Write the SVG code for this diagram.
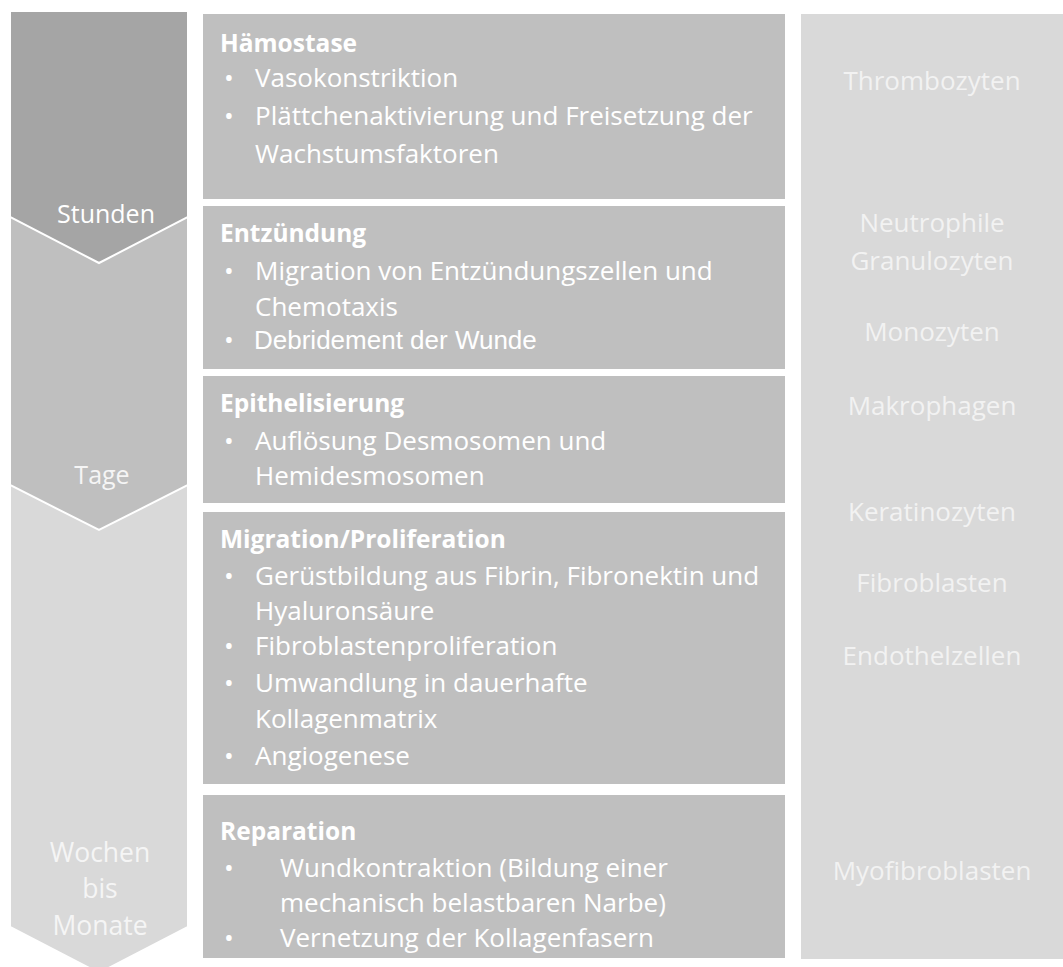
<svg xmlns="http://www.w3.org/2000/svg" width="1063" height="967" viewBox="0 0 1063 967">
<style>
.chev{stroke:#ffffff;stroke-width:2;stroke-linejoin:miter}
.box{fill:#bfbfbf}
.tl{font-family:"Open Sans","Noto Sans",sans-serif;font-size:25px;text-anchor:middle}
.rt{font-family:"Open Sans","Noto Sans",sans-serif;font-size:26px;fill:#f2f2f2;text-anchor:middle}
.bt{font-family:"Open Sans","Noto Sans",sans-serif;font-size:26px;fill:#ffffff}
.bh{font-family:"Open Sans","Noto Sans",sans-serif;font-size:24.5px;font-weight:bold;fill:#ffffff}
.bu{text-anchor:middle}
</style>
<rect width="1063" height="967" fill="#ffffff"/>
<g id="timeline">
  <path class="chev" d="M10,440 L188,440 L188,927 L99,973 L10,927 Z" fill="#d9d9d9"/>
  <path class="chev" d="M10,200 L188,200 L188,485 L99,530 L10,485 Z" fill="#bfbfbf"/>
  <path class="chev" d="M10,11 L188,11 L188,217 L99,263 L10,217 Z" fill="#a5a5a5"/>
  <text class="tl" x="106" y="223" fill="#ffffff">Stunden</text>
  <text class="tl" x="102" y="484" fill="#f5f5f5">Tage</text>
  <text class="tl" x="100" y="862" fill="#f5f5f5" style="font-size:26.5px">Wochen</text>
  <text class="tl" x="100" y="898" fill="#f5f5f5" style="font-size:26.5px">bis</text>
  <text class="tl" x="100" y="935" fill="#f5f5f5" style="font-size:26.5px">Monate</text>
</g>
<g id="haemostase">
  <rect class="box" x="203" y="14" width="582" height="185"/>
  <text class="bh" x="220" y="52">Hämostase</text>
  <text class="bt bu" x="229" y="87">•</text>
  <text class="bt" x="255" y="87">Vasokonstriktion</text>
  <text class="bt bu" x="229" y="125">•</text>
  <text class="bt" x="255" y="125">Plättchenaktivierung und Freisetzung der</text>
  <text class="bt" x="255" y="163">Wachstumsfaktoren</text>
</g>
<g id="entzuendung">
  <rect class="box" x="203" y="206" width="582" height="163"/>
  <text class="bh" x="220" y="242">Entzündung</text>
  <text class="bt bu" x="229" y="280">•</text>
  <text class="bt" x="255" y="280">Migration von Entzündungszellen und</text>
  <text class="bt" x="255" y="316">Chemotaxis</text>
  <text class="bt bu" x="229" y="349">•</text>
  <text x="254" y="349" fill="#ffffff" style="font-family:'Liberation Sans',Arial,sans-serif;font-size:26px">Debridement der Wunde</text>
</g>
<g id="epithelisierung">
  <rect class="box" x="203" y="376" width="582" height="127"/>
  <text class="bh" x="220" y="412">Epithelisierung</text>
  <text class="bt bu" x="229" y="450">•</text>
  <text class="bt" x="255" y="450">Auflösung Desmosomen und</text>
  <text class="bt" x="255" y="485">Hemidesmosomen</text>
</g>
<g id="migration">
  <rect class="box" x="203" y="512" width="582" height="272"/>
  <text class="bh" x="220" y="548">Migration/Proliferation</text>
  <text class="bt bu" x="229" y="585">•</text>
  <text class="bt" x="255" y="585">Gerüstbildung aus Fibrin, Fibronektin und</text>
  <text class="bt" x="255" y="620">Hyaluronsäure</text>
  <text class="bt bu" x="229" y="655">•</text>
  <text class="bt" x="255" y="655">Fibroblastenproliferation</text>
  <text class="bt bu" x="229" y="692">•</text>
  <text class="bt" x="255" y="692">Umwandlung in dauerhafte</text>
  <text class="bt" x="255" y="728">Kollagenmatrix</text>
  <text class="bt bu" x="229" y="765">•</text>
  <text class="bt" x="255" y="765">Angiogenese</text>
</g>
<g id="reparation">
  <rect class="box" x="203" y="795" width="582" height="163"/>
  <text class="bh" x="220" y="840">Reparation</text>
  <text class="bt bu" x="229" y="877">•</text>
  <text class="bt" x="280" y="877">Wundkontraktion (Bildung einer</text>
  <text class="bt" x="280" y="912">mechanisch belastbaren Narbe)</text>
  <text class="bt bu" x="229" y="947">•</text>
  <text class="bt" x="280" y="947">Vernetzung der Kollagenfasern</text>
</g>
<g id="zellen">
  <rect x="801" y="14" width="262" height="945" fill="#d9d9d9"/>
  <text class="rt" x="932" y="90">Thrombozyten</text>
  <text class="rt" x="932" y="232">Neutrophile</text>
  <text class="rt" x="932" y="270">Granulozyten</text>
  <text class="rt" x="932" y="341">Monozyten</text>
  <text class="rt" x="932" y="415">Makrophagen</text>
  <text class="rt" x="932" y="521">Keratinozyten</text>
  <text class="rt" x="932" y="592">Fibroblasten</text>
  <text class="rt" x="932" y="665">Endothelzellen</text>
  <text class="rt" x="932" y="880">Myofibroblasten</text>
</g>
</svg>
